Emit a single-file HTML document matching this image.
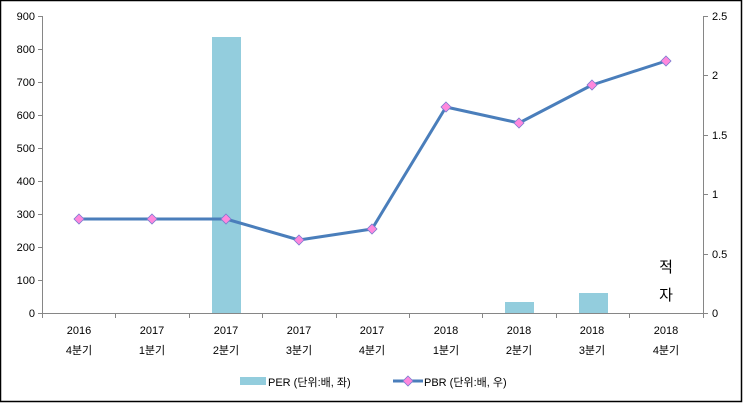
<!DOCTYPE html>
<html><head><meta charset="utf-8"><style>
html,body{margin:0;padding:0;background:#fff}
svg{display:block}
text{font-family:"Liberation Sans","Noto Sans CJK KR",sans-serif;font-size:11px;fill:#000}
</style></head><body>
<svg width="743" height="403" viewBox="0 0 743 403" xmlns="http://www.w3.org/2000/svg">
<rect x="0.5" y="0.5" width="741" height="401" fill="#fff" stroke="#000" stroke-width="1.5"/>
<!-- bars -->
<rect x="212" y="37" width="29" height="276" fill="#93CDDD"/>
<rect x="505" y="302" width="29" height="11" fill="#93CDDD"/>
<rect x="579" y="293" width="29" height="20" fill="#93CDDD"/>
<!-- left axis -->
<g stroke="#868686" stroke-width="1">
<line x1="42.5" y1="16" x2="42.5" y2="313"/>
<line x1="38" y1="16.5" x2="42.5" y2="16.5"/><line x1="38" y1="49.5" x2="42.5" y2="49.5"/>
<line x1="38" y1="82.5" x2="42.5" y2="82.5"/><line x1="38" y1="115.5" x2="42.5" y2="115.5"/>
<line x1="38" y1="148.5" x2="42.5" y2="148.5"/><line x1="38" y1="181.5" x2="42.5" y2="181.5"/>
<line x1="38" y1="214.5" x2="42.5" y2="214.5"/><line x1="38" y1="247.5" x2="42.5" y2="247.5"/>
<line x1="38" y1="280.5" x2="42.5" y2="280.5"/><line x1="38" y1="313.5" x2="42.5" y2="313.5"/>
<line x1="703.5" y1="16" x2="703.5" y2="313"/>
<line x1="703.5" y1="16.5" x2="708" y2="16.5"/><line x1="703.5" y1="75.5" x2="708" y2="75.5"/>
<line x1="703.5" y1="135.5" x2="708" y2="135.5"/><line x1="703.5" y1="194.5" x2="708" y2="194.5"/>
<line x1="703.5" y1="254.5" x2="708" y2="254.5"/><line x1="703.5" y1="313.5" x2="708" y2="313.5"/>
<line x1="42" y1="313.5" x2="703" y2="313.5"/>
<line x1="42.5" y1="313" x2="42.5" y2="318"/><line x1="115.5" y1="313" x2="115.5" y2="318"/>
<line x1="189.5" y1="313" x2="189.5" y2="318"/><line x1="262.5" y1="313" x2="262.5" y2="318"/>
<line x1="336.5" y1="313" x2="336.5" y2="318"/><line x1="409.5" y1="313" x2="409.5" y2="318"/>
<line x1="482.5" y1="313" x2="482.5" y2="318"/><line x1="556.5" y1="313" x2="556.5" y2="318"/>
<line x1="629.5" y1="313" x2="629.5" y2="318"/><line x1="703.5" y1="313" x2="703.5" y2="318"/>
</g>
<g text-anchor="end">
<text x="35" y="20">900</text><text x="35" y="53">800</text><text x="35" y="86">700</text>
<text x="35" y="119">600</text><text x="35" y="152">500</text><text x="35" y="185">400</text>
<text x="35" y="218">300</text><text x="35" y="251">200</text><text x="35" y="284">100</text>
<text x="35" y="317">0</text>
</g>
<g>
<text x="712" y="20">2.5</text><text x="712" y="79">2</text><text x="712" y="139">1.5</text>
<text x="712" y="198">1</text><text x="712" y="258">0.5</text><text x="712" y="317">0</text>
</g>
<g text-anchor="middle">
<text x="79" y="334">2016</text><text x="79" y="354">4분기</text>
<text x="152" y="334">2017</text><text x="152" y="354">1분기</text>
<text x="226" y="334">2017</text><text x="226" y="354">2분기</text>
<text x="299" y="334">2017</text><text x="299" y="354">3분기</text>
<text x="372" y="334">2017</text><text x="372" y="354">4분기</text>
<text x="446" y="334">2018</text><text x="446" y="354">1분기</text>
<text x="519" y="334">2018</text><text x="519" y="354">2분기</text>
<text x="592" y="334">2018</text><text x="592" y="354">3분기</text>
<text x="666" y="334">2018</text><text x="666" y="354">4분기</text>
<text x="666" y="272" style="font-size:15px">적</text>
<text x="666" y="300" style="font-size:15px">자</text>
</g>
<!-- line -->
<polyline points="79,219 152,219 226,219 299,240 372,229 446,107 519,123 592,85 666,61" fill="none" stroke="#4A7EBB" stroke-width="3" stroke-linejoin="round"/>
<g fill="#FF88DD" stroke="#7B7BD0" stroke-width="0.8">
<polygon points="79,214 84,219 79,224 74,219"/>
<polygon points="152,214 157,219 152,224 147,219"/>
<polygon points="226,214 231,219 226,224 221,219"/>
<polygon points="299,235 304,240 299,245 294,240"/>
<polygon points="372,224 377,229 372,234 367,229"/>
<polygon points="446,102 451,107 446,112 441,107"/>
<polygon points="519,118 524,123 519,128 514,123"/>
<polygon points="592,80 597,85 592,90 587,85"/>
<polygon points="666,56 671,61 666,66 661,61"/>
</g>
<!-- legend -->
<rect x="240" y="377" width="26" height="8" fill="#93CDDD"/>
<text x="268" y="386">PER (단위:배, 좌)</text>
<line x1="393" y1="381" x2="423" y2="381" stroke="#4A7EBB" stroke-width="3"/>
<polygon points="408,376 413,381 408,386 403,381" fill="#FF88DD" stroke="#7B7BD0" stroke-width="0.8"/>
<text x="424" y="386">PBR (단위:배, 우)</text>
</svg>
</body></html>
